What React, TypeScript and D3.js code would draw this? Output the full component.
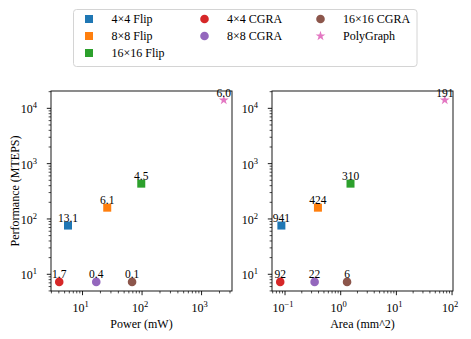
import React from 'react';
import * as d3 from 'd3';

// series, in legend order
const seriesNames = ['4×4 Flip', '8×8 Flip', '16×16 Flip', '4×4 CGRA', '8×8 CGRA', '16×16 CGRA', 'PolyGraph'];
const seriesColors = ['#1f77b4', '#ff7f0e', '#2ca02c', '#d62728', '#9467bd', '#8c564b', '#e377c2'];
const seriesShapes = ['square', 'square', 'square', 'circle', 'circle', 'circle', 'star'];

// values
const powerMW = [5.7, 26, 97, 4.06, 17, 68, 2360];
const areaMM2 = [0.086, 0.39, 1.5, 0.082, 0.34, 1.3, 74];
const perfMTEPS = [76, 160, 435, 7.28, 7.28, 7.28, 14090];
const powerLabels = ['13.1', '6.1', '4.5', '1.7', '0.4', '0.1', '6.0'];
const areaLabels = ['941', '424', '310', '92', '22', '6', '191'];

const W = 471;
const H = 339;
const top = 91;
const bottom = 291;
const FONT = '"Liberation Serif", "Times New Roman", serif';

// matplotlib style log domain, 5% margin in log space
function logDomain(vals: number[]) {
  const lo = Math.log10(d3.min(vals) as number);
  const hi = Math.log10(d3.max(vals) as number);
  const m = (hi - lo) * 0.05;
  return [Math.pow(10, lo - m), Math.pow(10, hi + m)];
}

function minorTicks(domain: number[]) {
  const out: number[] = [];
  const d0 = Math.floor(Math.log10(domain[0]));
  const d1 = Math.ceil(Math.log10(domain[1]));
  d3.range(d0, d1 + 1).forEach(d => {
    d3.range(2, 10).forEach(k => {
      const v = k * Math.pow(10, d);
      if (v >= domain[0] && v <= domain[1]) out.push(v);
    });
  });
  return out;
}

function majorTicks(domain: number[]) {
  const d0 = Math.ceil(Math.log10(domain[0]) - 1e-9);
  const d1 = Math.floor(Math.log10(domain[1]) + 1e-9);
  return d3.range(d0, d1 + 1);
}

const Pow = ({ x, y, e, anchor }: { x: number; y: number; e: number; anchor: string }) => (
  <text x={x} y={y} textAnchor={anchor} fontSize={12} fontFamily={FONT} fill="#000">
    10
    <tspan dy={-5} fontSize={8.5}>{e < 0 ? '\u2212' + Math.abs(e) : e}</tspan>
  </text>
);

const Marker = ({ shape, x, y, color }: { shape: string; x: number; y: number; color: string }) => {
  if (shape === 'square') return <rect x={x - 4} y={y - 4} width={8} height={8} fill={color} />;
  if (shape === 'circle') return <circle cx={x} cy={y} r={4.3} fill={color} />;
  const star = d3.symbol().type(d3.symbolStar).size(30)() as string;
  return <path d={star} transform={`translate(${x},${y})`} fill={color} />;
};

const Panel = ({ left, right, xs, labels, xLabel, yLabel }: any) => {
  const xDom = logDomain(xs);
  const yDom = logDomain(perfMTEPS);
  const x = d3.scaleLog().domain(xDom).range([left, right]);
  const y = d3.scaleLog().domain(yDom).range([bottom, top]);
  const clipId = 'clip' + left;
  return (
    <g>
      <defs>
        <clipPath id={clipId}>
          <rect x={left} y={top} width={right - left} height={bottom - top} />
        </clipPath>
      </defs>
      {/* ticks */}
      {minorTicks(xDom).map((v, i) => (
        <line key={'xm' + i} x1={x(v)} x2={x(v)} y1={bottom} y2={bottom + 2.4} stroke="#000" strokeWidth={0.7} />
      ))}
      {majorTicks(xDom).map(e => (
        <g key={'xM' + e}>
          <line x1={x(Math.pow(10, e))} x2={x(Math.pow(10, e))} y1={bottom} y2={bottom + 4.2} stroke="#000" strokeWidth={0.9} />
          <Pow x={x(Math.pow(10, e)) - 2} y={bottom + 20.5} e={e} anchor="middle" />
        </g>
      ))}
      {minorTicks(yDom).map((v, i) => (
        <line key={'ym' + i} x1={left - 2.4} x2={left} y1={y(v)} y2={y(v)} stroke="#000" strokeWidth={0.7} />
      ))}
      {majorTicks(yDom).map(e => (
        <g key={'yM' + e}>
          <line x1={left - 4.2} x2={left} y1={y(Math.pow(10, e))} y2={y(Math.pow(10, e))} stroke="#000" strokeWidth={0.9} />
          <Pow x={left - 14} y={y(Math.pow(10, e)) + 5} e={e} anchor="end" />
        </g>
      ))}
      {/* points */}
      <g clipPath={`url(#${clipId})`}>
        {xs.map((v: number, i: number) => (
          <Marker key={i} shape={seriesShapes[i]} x={x(v)} y={y(perfMTEPS[i])} color={seriesColors[i]} />
        ))}
      </g>
      <rect x={left} y={top} width={right - left} height={bottom - top} fill="none" stroke="#000" strokeWidth={0.9} />
      {labels.map((t: string, i: number) => (
        <text key={'l' + i} x={x(xs[i])} y={y(perfMTEPS[i]) - 3.5} textAnchor="middle" fontSize={11.5} fontFamily={FONT} fill="#000">
          {t}
        </text>
      ))}
      <text x={(left + right) / 2} y={bottom + 36.5} textAnchor="middle" fontSize={12} fontFamily={FONT} fill="#000">
        {xLabel}
      </text>
      {yLabel && (
        <text transform={`translate(18.5,${(top + bottom) / 2}) rotate(-90)`} textAnchor="middle" fontSize={12} fontFamily={FONT} fill="#000">
          {yLabel}
        </text>
      )}
    </g>
  );
};

const Legend = () => {
  const colX = [89, 204.5, 320.5];
  const rowY = [19, 36, 53];
  const perCol = [3, 2, 2];
  const items: { i: number; c: number; r: number }[] = [];
  let k = 0;
  perCol.forEach((n, c) => {
    d3.range(n).forEach(r => {
      items.push({ i: k, c, r });
      k += 1;
    });
  });
  return (
    <g>
      <rect x={73.5} y={9.5} width={343.5} height={57} rx={3} fill="#fff" stroke="#d4d4d4" strokeWidth={1} />
      {items.map(({ i, c, r }) => (
        <g key={i}>
          <Marker shape={seriesShapes[i]} x={colX[c]} y={rowY[r]} color={seriesColors[i]} />
          <text x={colX[c] + 22.5} y={rowY[r] + 4} fontSize={12} fontFamily={FONT} fill="#000">
            {seriesNames[i]}
          </text>
        </g>
      ))}
    </g>
  );
};

export default function App() {
  return (
    <svg width={W} height={H} style={{ position: 'absolute', left: 0, top: 0, background: '#fff' }}>
      <Legend />
      <Panel left={51} right={232} xs={powerMW} labels={powerLabels} xLabel="Power (mW)" yLabel="Performance (MTEPS)" />
      <Panel left={272} right={453} xs={areaMM2} labels={areaLabels} xLabel="Area (mm^2)" />
    </svg>
  );
}
